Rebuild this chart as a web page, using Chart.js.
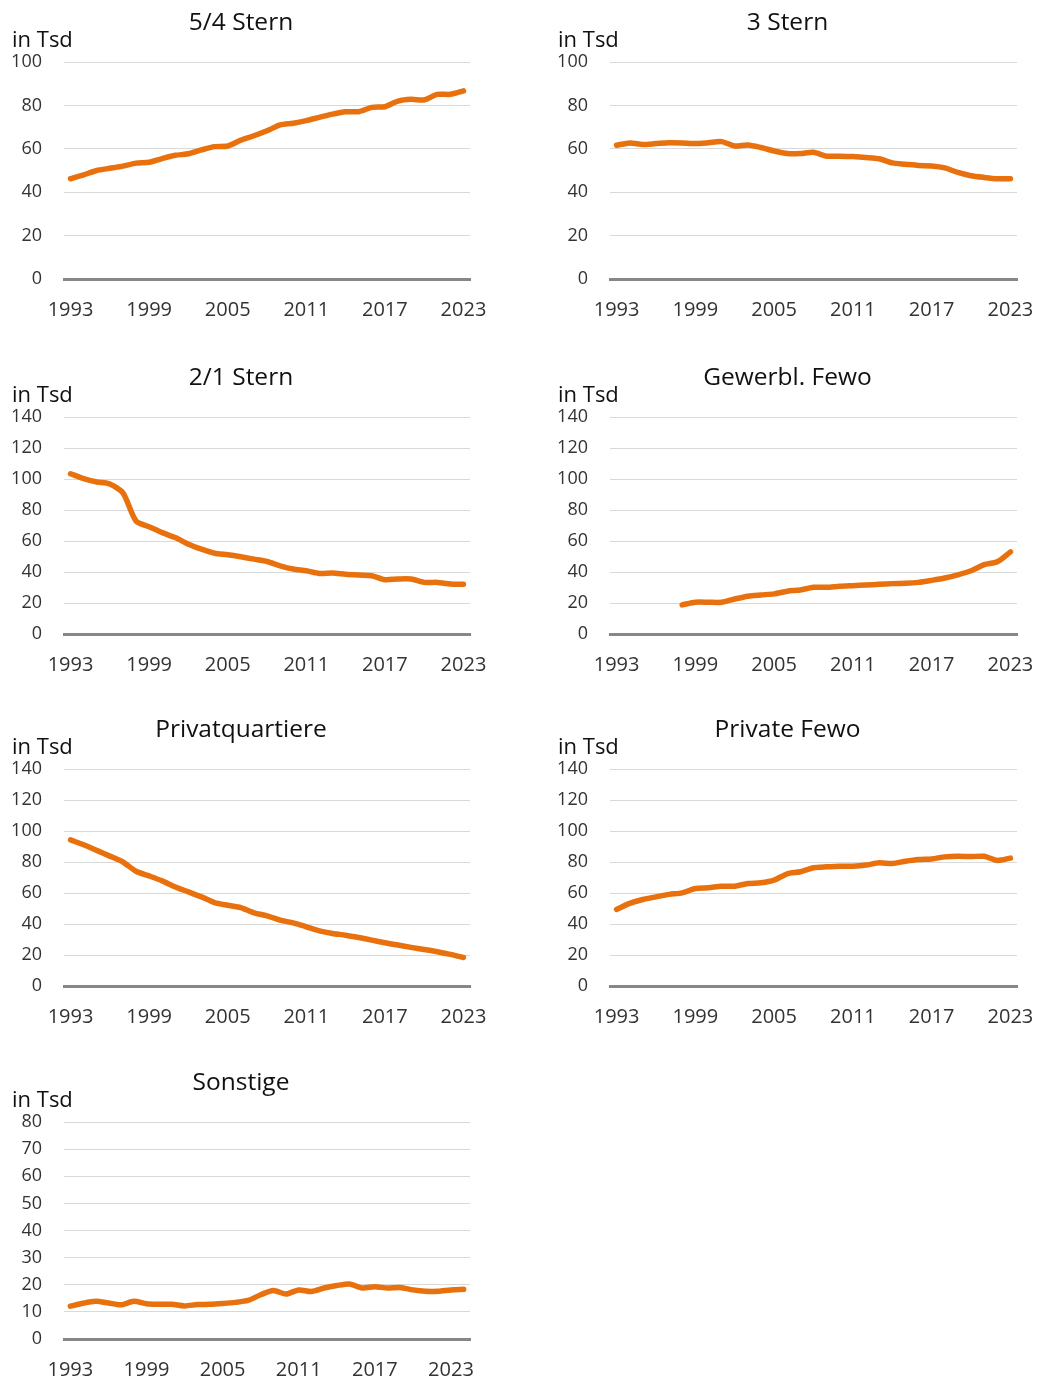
<!DOCTYPE html>
<html lang="de">
<head>
<meta charset="utf-8">
<title>Betten nach Kategorie</title>
<script src="https://cdn.jsdelivr.net/npm/chart.js@4.4.1/dist/chart.umd.min.js"></script>
<style>
  html, body { margin: 0; padding: 0; background: #fff; overflow: hidden; }
  body { position: relative; width: 1038px; height: 1380px; }
  canvas { position: absolute; }
</style>
</head>
<body>
<canvas id="c1" width="500" height="340" style="left:0;top:0"></canvas>
<canvas id="c2" width="492" height="340" style="left:546px;top:0"></canvas>
<canvas id="c3" width="500" height="340" style="left:0;top:355px"></canvas>
<canvas id="c4" width="492" height="340" style="left:546px;top:355px"></canvas>
<canvas id="c5" width="500" height="340" style="left:0;top:707px"></canvas>
<canvas id="c6" width="492" height="340" style="left:546px;top:707px"></canvas>
<canvas id="c7" width="500" height="340" style="left:0;top:1060px"></canvas>
<script>
const years = ["1993", "1994", "1995", "1996", "1997", "1998", "1999", "2000", "2001", "2002",
  "2003", "2004", "2005", "2006", "2007", "2008", "2009", "2010", "2011", "2012",
  "2013", "2014", "2015", "2016", "2017", "2018", "2019", "2020", "2021", "2022", "2023"];
const yearsSonstige = years.concat(["2024"]);
const tickYears = ["1993", "1999", "2005", "2011", "2017", "2023"];

// Werte in Tsd
const stern54 = [46.2, 48, 50, 51, 52, 53.4, 53.8, 55.5, 57, 57.7, 59.5, 61, 61.3, 64, 66, 68.3,
  71, 71.8, 73, 74.5, 76, 77.1, 77.1, 79.1, 79.4, 82, 82.8, 82.5, 85.1, 85.1, 86.7];
const stern3 = [61.6, 62.7, 62, 62.4, 62.8, 62.7, 62.4, 62.8, 63.3, 61.3, 61.8, 60.6, 59, 57.8, 57.8, 58.4,
  56.6, 56.6, 56.4, 56, 55.4, 53.5, 52.9, 52.3, 52.1, 51.2, 49.1, 47.6, 46.8, 46.2, 46.2];
const stern21 = [103.4, 100.2, 98.1, 96.8, 91, 72.9, 69.2, 65.4, 62.2, 57.9, 54.7, 52.1, 51.1, 49.8, 48.3, 46.8,
  44, 41.9, 40.8, 39.1, 39.3, 38.5, 38, 37.6, 35, 35.5, 35.5, 33.3, 33.3, 32.3, 32.1];
const gewerblFewo = [null, null, null, null, null, 18.8, 20.5, 20.5, 20.5, 22.6, 24.4, 25.2, 25.9, 27.6, 28.4, 30.1,
  30.1, 30.8, 31.2, 31.6, 32.1, 32.5, 32.7, 33.3, 34.6, 36.1, 38.2, 40.8, 44.7, 46.6, 53];
const privatquartiere = [94.3, 91.1, 87.5, 83.8, 80, 74, 71, 67.8, 63.9, 60.7, 57.5, 53.8, 52.1, 50.6, 47.2, 45.3,
  42.5, 40.7, 38.2, 35.6, 33.9, 32.8, 31.3, 29.6, 27.9, 26.4, 24.9, 23.6, 22.1, 20.4, 18.4];
const privateFewo = [49.4, 53.3, 55.8, 57.5, 59.1, 60.1, 62.9, 63.4, 64.4, 64.4, 66.1, 66.6, 68.3, 72.4, 73.7, 76.3,
  76.9, 77.3, 77.3, 78, 79.5, 79, 80.5, 81.6, 82, 83.3, 83.7, 83.5, 83.7, 81, 82.5];
const sonstige = [12.1, 13.2, 13.9, 13.3, 12.6, 13.9, 13, 12.8, 12.8, 12.2, 12.7, 12.8, 13.1, 13.5, 14.2, 16.3,
  17.9, 16.6, 18.1, 17.5, 18.8, 19.7, 20.3, 18.8, 19.3, 18.8, 19, 18.1, 17.6, 17.6, 18.1, 18.3];

const ORANGE = "#E8710E";
const FONT = "'Open Sans', 'Noto Sans', sans-serif";

function makeChart(id, title, labels, values, yMax, yStep, padRight) {
  new Chart(document.getElementById(id), {
    type: "line",
    data: {
      labels: labels,
      datasets: [{
        data: values,
        borderColor: ORANGE,
        borderWidth: 5.5,
        pointRadius: 0,
        tension: 0.25,
        borderCapStyle: "round",
        borderJoinStyle: "round",
      }],
    },
    options: {
      responsive: false,
      animation: false,
      layout: { padding: { left: 12, right: padRight, top: 0, bottom: 21 } },
      plugins: {
        legend: { display: false },
        tooltip: { enabled: false },
        title: {
          display: true,
          text: title,
          color: "#111",
          font: { family: FONT, size: 24.5, weight: "normal", lineHeight: 1.2 },
          padding: { top: 8.3, bottom: 0 },
        },
        subtitle: {
          display: true,
          text: "in Tsd",
          align: "start",
          color: "#111",
          font: { family: FONT, size: 22, weight: "normal", lineHeight: 1 },
          padding: { top: -8.2, bottom: 10.5 },
        },
      },
      scales: {
        x: {
          offset: true,
          grid: { display: false, drawTicks: false },
          border: { display: true, color: "#878787", width: 3 },
          ticks: {
            autoSkip: false,
            maxRotation: 0,
            padding: 19,
            color: "#333",
            font: { family: FONT, size: 20 },
            callback: function (value) {
              const l = this.getLabelForValue(value);
              return tickYears.includes(l) ? l : "";
            },
          },
          afterFit: function (s) {
            s.height = 40;
            s.paddingLeft = 0;
            s.paddingRight = 0;
          },
        },
        y: {
          min: 0,
          max: yMax,
          ticks: {
            stepSize: yStep,
            padding: 22,
            color: "#333",
            font: { family: FONT, size: 18 },
          },
          grid: {
            drawTicks: false,
            lineWidth: 1,
            color: (ctx) => (ctx.tick && ctx.tick.value === 0 ? "rgba(0,0,0,0)" : "#D9D9D9"),
          },
          border: { display: false },
          afterFit: function (s) { s.width = 52; },
        },
      },
    },
  });
}

makeChart("c1", "5/4 Stern", years, stern54, 100, 20, 30);
makeChart("c2", "3 Stern", years, stern3, 100, 20, 21);
makeChart("c3", "2/1 Stern", years, stern21, 140, 20, 30);
makeChart("c4", "Gewerbl. Fewo", years, gewerblFewo, 140, 20, 21);
makeChart("c5", "Privatquartiere", years, privatquartiere, 140, 20, 30);
makeChart("c6", "Private Fewo", years, privateFewo, 140, 20, 21);
makeChart("c7", "Sonstige", yearsSonstige, sonstige, 80, 10, 30);
</script>
</body>
</html>
